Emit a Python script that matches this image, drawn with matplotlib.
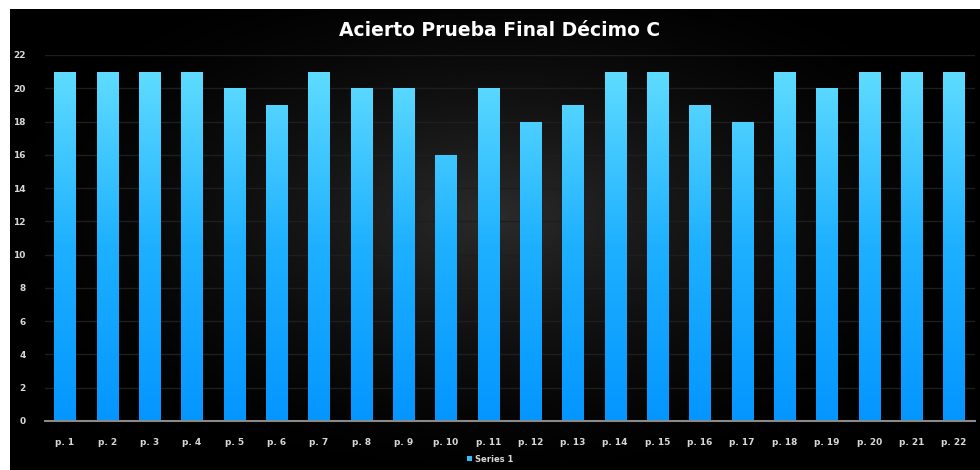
import numpy as np
import matplotlib
matplotlib.use("Agg")
import matplotlib.pyplot as plt
from matplotlib.colors import LinearSegmentedColormap

categories = ["p. %d" % i for i in range(1, 23)]
values = [21, 21, 21, 21, 20, 19, 21, 20, 20, 16, 20, 18, 19, 21, 21, 19, 18, 21, 20, 21, 21, 21]
yticks = list(range(0, 23, 2))

fig = plt.figure(figsize=(9.8, 4.7), dpi=100)
fig.patch.set_facecolor("white")

# black panel with soft radial glow
bg = fig.add_axes([10 / 980, 0, 970 / 980, 461 / 470])
bg.set_axis_off()
yy, xx = np.mgrid[0:1:300j, 0:1:600j]
r = np.sqrt(((xx - 0.5) / 0.55) ** 2 + ((yy - 0.55) / 0.6) ** 2)
glow = np.clip(1 - r, 0, 1) ** 1.6 * 0.17
bg.imshow(glow, cmap="gray", vmin=0, vmax=1, aspect="auto", extent=[0, 1, 0, 1], origin="lower")
bg.set_xlim(0, 1)
bg.set_ylim(0, 1)

ax = fig.add_axes([45 / 980, 49 / 470, 930 / 980, 366 / 470])
ax.patch.set_alpha(0)
x = np.arange(len(categories))
bars = ax.bar(x, values, width=0.5, color="#2fbfff", zorder=3)

cmap = LinearSegmentedColormap.from_list("cyan", ["#0496ff", "#1eb0ff", "#5fdcff"])
grad = np.linspace(0, 1, 256).reshape(-1, 1)
for b in bars:
    x0, y0 = b.get_x(), b.get_y()
    w, h = b.get_width(), b.get_height()
    im = ax.imshow(grad, cmap=cmap, aspect="auto", origin="lower",
                   extent=[x0, x0 + w, y0, y0 + 21], zorder=4)
    im.set_clip_path(b)

ax.set_xlim(-0.47, len(categories) - 0.5)
ax.set_ylim(0, 22)
ax.set_yticks(yticks)
ax.set_xticks(x)
ax.set_xticklabels(categories)
ax.tick_params(colors="#d8d8d8", labelsize=6.5, length=0, pad=12)
ax.tick_params(axis="y", pad=14)
for lab in ax.get_xticklabels() + ax.get_yticklabels():
    lab.set_fontweight("bold")
ax.grid(axis="y", color="#1e1e1e", linewidth=1, zorder=1)
for s in ["top", "right", "left"]:
    ax.spines[s].set_visible(False)
ax.spines["bottom"].set_color("#8a8a8a")
ax.spines["bottom"].set_linewidth(1.5)
ax.spines["bottom"].set_zorder(5)

fig.text(500 / 980, 1 - 31 / 470, "Acierto Prueba Final Décimo C", color="white",
         fontsize=13.5, fontweight="bold", ha="center", va="center")

leg = ax.legend([bars[0]], ["Series 1"], loc="center", bbox_to_anchor=(490 / 980, 11 / 470),
                bbox_transform=fig.transFigure, frameon=False, fontsize=6,
                handlelength=0.6, handleheight=0.6, handletextpad=0.4)
for t in leg.get_texts():
    t.set_color("#d8d8d8")
    t.set_fontweight("bold")

fig.savefig("out.png", dpi=100, facecolor=fig.get_facecolor())
